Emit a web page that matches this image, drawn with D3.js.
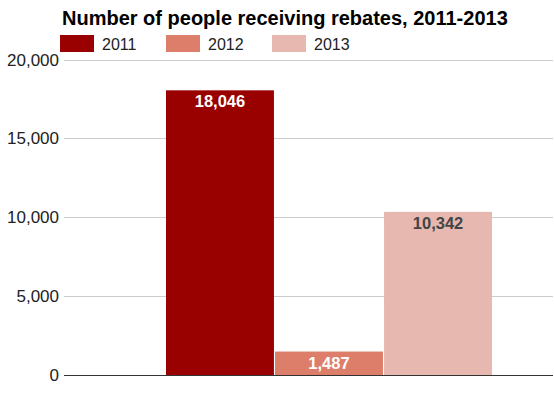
<!DOCTYPE html>
<html>
<head>
<meta charset="utf-8">
<script src="https://d3js.org/d3.v7.min.js"></script>
<style>
  body { margin: 0; background: #fff; }
  text { font-family: Arial, "Liberation Sans", sans-serif; }
</style>
</head>
<body>
<div class="chart"></div>
<script>
var years = ['2011', '2012', '2013'];
var values = [18046, 1487, 10342];
var colors = ['#990000', '#dd7e6b', '#e6b8af'];
var labelColors = ['#ffffff', '#ffffff', '#444444'];
var yTicks = [0, 5000, 10000, 15000, 20000];

var fullWidth = 554;
var fullHeight = 398;
var plotLeft = 64, plotRight = 553;
var plotTop = 59.5, plotBottom = 375;

var svg = d3.select('.chart')
  .append('svg')
  .attr('width', fullWidth)
  .attr('height', fullHeight);

// title
svg.append('text')
  .attr('x', 62)
  .attr('y', 25)
  .style('font-size', '20px')
  .style('font-weight', 'bold')
  .style('fill', '#000')
  .text('Number of people receiving rebates, 2011-2013');

var yScale = d3.scaleLinear()
  .domain([0, 20000])
  .range([plotBottom, plotTop]);

var xScale = d3.scaleBand()
  .domain(years)
  .range([166, 492])
  .paddingInner(0.01);

// gridlines
svg.selectAll('.grid')
  .data(yTicks.slice(1))
  .enter()
  .append('line')
  .attr('class', 'grid')
  .attr('x1', plotLeft)
  .attr('x2', plotRight)
  .attr('y1', d => Math.round(yScale(d)) + 0.5)
  .attr('y2', d => Math.round(yScale(d)) + 0.5)
  .style('stroke', '#cccccc')
  .style('stroke-width', 1);

// y labels
svg.selectAll('.ylabel')
  .data(yTicks)
  .enter()
  .append('text')
  .attr('class', 'ylabel')
  .attr('x', 59)
  .attr('y', d => yScale(d))
  .attr('dy', '0.36em')
  .style('text-anchor', 'end')
  .style('font-size', '17px')
  .style('fill', '#222')
  .text(d => d3.format(',')(d));

// bars
svg.selectAll('.bar')
  .data(values)
  .enter()
  .append('rect')
  .attr('class', 'bar')
  .attr('x', (d, i) => xScale(years[i]))
  .attr('y', d => yScale(d))
  .attr('width', xScale.bandwidth())
  .attr('height', d => yScale(0) - yScale(d))
  .style('fill', (d, i) => colors[i]);

// bar labels
svg.selectAll('.barlabel')
  .data(values)
  .enter()
  .append('text')
  .attr('class', 'barlabel')
  .attr('x', (d, i) => xScale(years[i]) + xScale.bandwidth() / 2)
  .attr('y', d => yScale(d) + 17)
  .style('text-anchor', 'middle')
  .style('font-size', '16.5px')
  .style('font-weight', 'bold')
  .style('fill', (d, i) => labelColors[i])
  .text(d => d3.format(',')(d));

// baseline
svg.append('line')
  .attr('x1', plotLeft)
  .attr('x2', plotRight)
  .attr('y1', yScale(0) + 0.5)
  .attr('y2', yScale(0) + 0.5)
  .style('stroke', '#333')
  .style('stroke-width', 1);

// legend
var legend = svg.selectAll('.legend')
  .data(years)
  .enter()
  .append('g')
  .attr('class', 'legend')
  .attr('transform', (d, i) => `translate(${60 + i * 106}, 35)`);

legend.append('rect')
  .attr('width', 34)
  .attr('height', 17)
  .style('fill', (d, i) => colors[i]);

legend.append('text')
  .attr('x', 42)
  .attr('y', 14.5)
  .style('font-size', '16px')
  .style('fill', '#222')
  .text(d => d);
</script>
</body>
</html>
